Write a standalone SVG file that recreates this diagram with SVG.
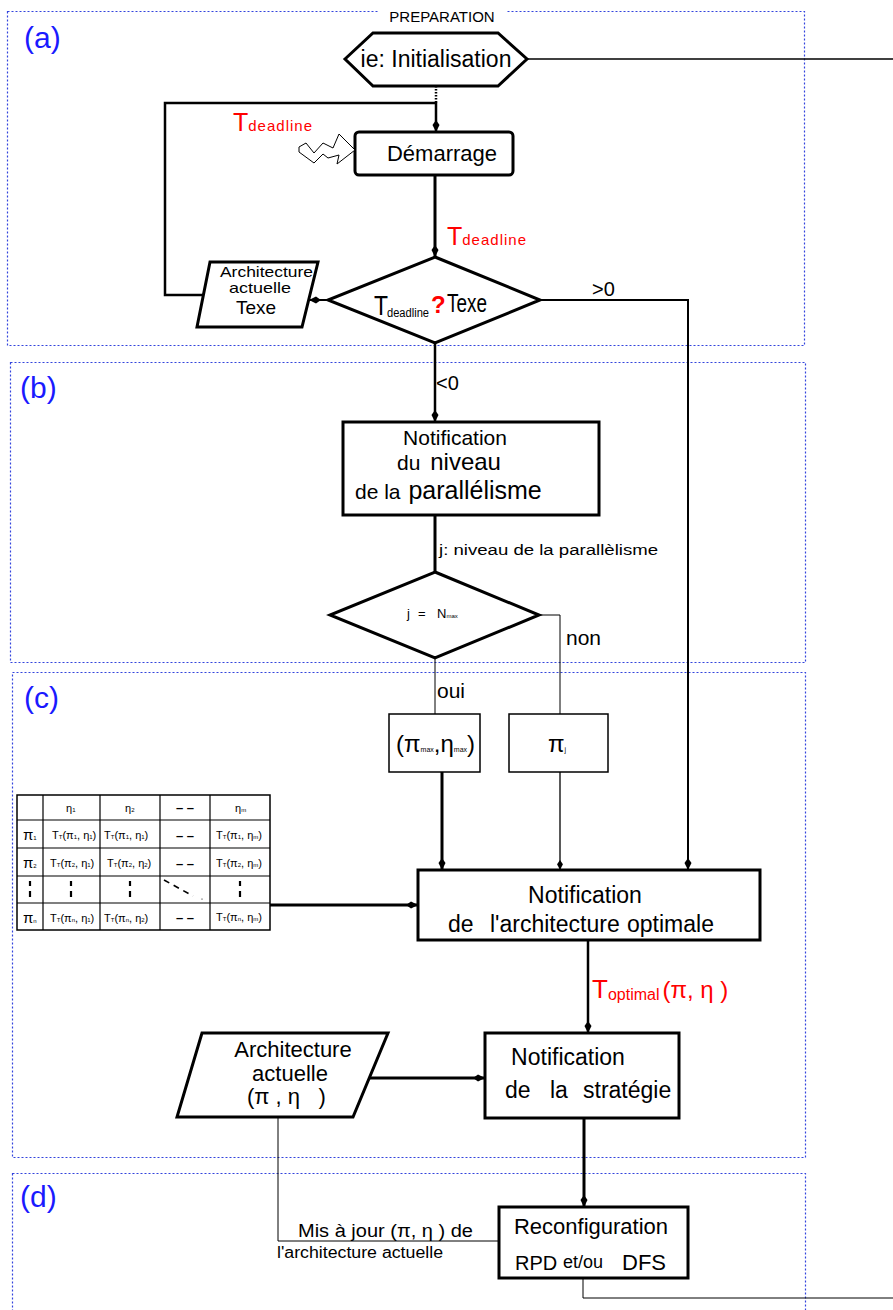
<svg xmlns="http://www.w3.org/2000/svg" width="893" height="1310" viewBox="0 0 893 1310">
<defs>
<style>
text{font-family:"Liberation Sans",Arial,sans-serif;fill:#000}
.frame{fill:none;stroke:#3344dd;stroke-width:1.2;stroke-dasharray:2,2}
.lbl{fill:#1a1aff;font-size:30px}
.red{fill:#ff0000}
.node{fill:#fff;stroke:#000;stroke-width:3}
.thin{fill:#fff;stroke:#000;stroke-width:1.5}
.c{fill:none;stroke:#000}
.tb{fill:none;stroke:#000;stroke-width:1.2}
.tc{font-size:11px}
.sub{font-size:6px}
</style>
<marker id="arr" markerUnits="userSpaceOnUse" viewBox="0 0 12 8" markerWidth="12" markerHeight="8" refX="12" refY="4" orient="auto">
<path d="M0,4 L5,0.5 L12,4 L5,7.5 Z" fill="#000"/>
</marker>
<marker id="arrs" markerUnits="userSpaceOnUse" viewBox="0 0 12 8" markerWidth="10" markerHeight="7" refX="12" refY="4" orient="auto">
<path d="M0,4 L5,0.5 L12,4 L5,7.5 Z" fill="#000"/>
</marker>
</defs>
<rect width="893" height="1310" fill="#fff"/>

<g id="frames">
<rect class="frame" x="7.5" y="11.5" width="797" height="334"/>
<rect class="frame" x="10.5" y="362.5" width="795" height="300"/>
<rect class="frame" x="12.5" y="672.5" width="793" height="485"/>
<rect class="frame" x="12.5" y="1173.5" width="793" height="140"/>
<text class="lbl" x="24" y="48">(a)</text>
<text class="lbl" x="20" y="398">(b)</text>
<text class="lbl" x="24" y="708">(c)</text>
<text class="lbl" x="20" y="1207">(d)</text>
<rect x="378" y="8" width="128" height="8" fill="#fff"/>
<text x="442" y="22" font-size="15" text-anchor="middle">PREPARATION</text>
</g>

<g id="connectors">
<path class="c" stroke-width="1.3" d="M527,59 H893"/>
<path class="c" stroke-width="2.5" stroke-dasharray="1.5,1.5" d="M436,86 V103"/>
<path class="c" stroke-width="2.5" d="M203,295 H165 V103 H436 V132" marker-end="url(#arr)"/>
<path class="c" stroke-width="3" d="M435,175 V257" marker-end="url(#arr)"/>
<path class="c" stroke-width="2" d="M328,300 H309" marker-end="url(#arr)"/>
<path class="c" stroke-width="2" d="M540,300 H688 V870" marker-end="url(#arr)"/>
<path class="c" stroke-width="2.5" d="M435,343 V422" marker-end="url(#arr)"/>
<path class="c" stroke-width="3" d="M435,515 V572"/>
<path class="c" stroke-width="1" d="M539,615 H560 V714"/>
<path class="c" stroke-width="1" d="M435,658 V714"/>
<path class="c" stroke-width="3" d="M442,772 V870" marker-end="url(#arr)"/>
<path class="c" stroke-width="1.3" d="M560,772 V870" marker-end="url(#arrs)"/>
<path class="c" stroke-width="3" d="M270,905 H418" marker-end="url(#arr)"/>
<path class="c" stroke-width="2.5" d="M588,940 V1033" marker-end="url(#arr)"/>
<path class="c" stroke-width="3" d="M370,1078 H485" marker-end="url(#arr)"/>
<path class="c" stroke-width="3" d="M584,1118 V1207" marker-end="url(#arr)"/>
<path class="c" stroke-width="1" d="M278,1117 V1241 H499"/>
<path class="c" stroke-width="1" d="M583,1278 V1298 H893"/>
</g>

<g id="labels">
<text class="red" x="233" y="131" font-size="25">T<tspan font-size="15" letter-spacing="1">deadline</tspan></text>
<text class="red" x="447" y="245" font-size="25">T<tspan font-size="15" letter-spacing="1">deadline</tspan></text>
<text x="592" y="296" font-size="20">&gt;0</text>
<text x="436" y="390" font-size="20">&lt;0</text>
<text x="439" y="555" font-size="14" textLength="219" lengthAdjust="spacingAndGlyphs">j:  niveau de la parallèlisme</text>
<text x="566" y="645" font-size="21">non</text>
<text x="437" y="698" font-size="21">oui</text>
<text class="red" x="592" y="998" font-size="26">T<tspan font-size="16" dy="2">optimal</tspan><tspan font-size="24" dy="-2" dx="3">(π, η )</tspan></text>
<text x="298" y="1237" font-size="18" textLength="175" lengthAdjust="spacingAndGlyphs">Mis à  jour (π, η  ) de</text>
<text x="277" y="1258" font-size="16" textLength="166" lengthAdjust="spacingAndGlyphs">l'architecture  actuelle</text>
</g>

<g id="init">
<polygon class="node" points="345,59 373,33 498,33 527,59 498,86 373,86"/>
<text x="436" y="67" font-size="23" text-anchor="middle">ie: Initialisation</text>
</g>

<g id="demarrage">
<rect class="node" x="355" y="132" width="158" height="43" rx="4"/>
<text x="442" y="161" font-size="22" text-anchor="middle">Démarrage</text>
<path d="M299,147 L306,143 L314,153 L323,143 L333,148 L339,134 L355,150 L337,164 L339,155 L328,158 L323,154 L314,163 L299,152 Z" fill="#fff" stroke="#000" stroke-width="1"/>
</g>

<g id="decision1">
<polygon class="node" points="435,257 540,300 435,343 328,300"/>
<text x="374" y="315" font-size="27" textLength="14" lengthAdjust="spacingAndGlyphs">T</text>
<text x="387" y="317" font-size="12" textLength="42" lengthAdjust="spacingAndGlyphs">deadline</text>
<text class="red" x="431" y="313" font-size="24" font-weight="bold">?</text>
<text x="447" y="312" font-size="26" textLength="40" lengthAdjust="spacingAndGlyphs">Texe</text>
</g>

<g id="archi1">
<polygon class="node" points="210,262 318,262 302,327 197,327"/>
<text x="220" y="277" font-size="15" textLength="93" lengthAdjust="spacingAndGlyphs">Architecture</text>
<text x="229" y="293" font-size="15" textLength="62" lengthAdjust="spacingAndGlyphs">actuelle</text>
<text x="256" y="314" font-size="19" text-anchor="middle">Texe</text>
</g>

<g id="niveau">
<rect class="node" x="343" y="422" width="256" height="93"/>
<text x="455" y="445" font-size="21" text-anchor="middle">Notification</text>
<text x="397" y="470" font-size="21">du <tspan font-size="24" dx="4">niveau</tspan></text>
<text x="355" y="499" font-size="21">de la <tspan font-size="25" dx="2">parallélisme</tspan></text>
</g>

<g id="decision2">
<polygon class="node" points="435,572 539,615 435,658 330,615"/>
<text y="618" font-size="13"><tspan x="407">j</tspan><tspan x="418">=</tspan><tspan x="437">N</tspan><tspan font-size="6">max</tspan></text>
</g>

<g id="pimax">
<rect class="thin" x="389" y="714" width="91" height="58"/>
<text x="396" y="752" font-size="24">(π<tspan font-size="7">max</tspan>,η<tspan font-size="7">max</tspan>)</text>
</g>

<g id="pij">
<rect class="thin" x="509" y="714" width="99" height="58"/>
<text x="548" y="752" font-size="24">π<tspan font-size="7">j</tspan></text>
</g>

<g id="table">
<rect x="17" y="795" width="253" height="135" fill="#fff" stroke="#000" stroke-width="1.5"/>
<path class="tb" d="M43,795 V930 M100,795 V930 M160,795 V930 M210,795 V930 M17,820 H270 M17,848 H270 M17,876 H270 M17,903 H270"/>
<text class="tc" x="66" y="812" font-size="13">η<tspan class="sub">1</tspan></text>
<text class="tc" x="125" y="812" font-size="13">η<tspan class="sub">2</tspan></text>
<text class="tc" x="235" y="812" font-size="13">η<tspan class="sub">m</tspan></text>
<text x="185" y="812" font-size="13" font-weight="bold" text-anchor="middle">– –</text>
<text x="23" y="840" font-size="15">π<tspan class="sub">1</tspan></text>
<text x="23" y="868" font-size="15">π<tspan class="sub">2</tspan></text>
<text x="23" y="923" font-size="15">π<tspan class="sub">n</tspan></text>
<text class="tc" x="52" y="839">T<tspan class="sub">T</tspan>(π<tspan class="sub">1</tspan>, η<tspan class="sub">1</tspan>)</text>
<text class="tc" x="104" y="839">T<tspan class="sub">T</tspan>(π<tspan class="sub">1</tspan>, η<tspan class="sub">1</tspan>)</text>
<text class="tc" x="216" y="839">T<tspan class="sub">T</tspan>(π<tspan class="sub">1</tspan>, η<tspan class="sub">m</tspan>)</text>
<text class="tc" x="50" y="867">T<tspan class="sub">T</tspan>(π<tspan class="sub">2</tspan>, η<tspan class="sub">1</tspan>)</text>
<text class="tc" x="107" y="867">T<tspan class="sub">T</tspan>(π<tspan class="sub">2</tspan>, η<tspan class="sub">2</tspan>)</text>
<text class="tc" x="216" y="867">T<tspan class="sub">T</tspan>(π<tspan class="sub">2</tspan>, η<tspan class="sub">m</tspan>)</text>
<text class="tc" x="50" y="922">T<tspan class="sub">T</tspan>(π<tspan class="sub">n</tspan>, η<tspan class="sub">1</tspan>)</text>
<text class="tc" x="104" y="922">T<tspan class="sub">T</tspan>(π<tspan class="sub">n</tspan>, η<tspan class="sub">2</tspan>)</text>
<text class="tc" x="216" y="921">T<tspan class="sub">T</tspan>(π<tspan class="sub">n</tspan>, η<tspan class="sub">m</tspan>)</text>
<text x="185" y="840" font-size="13" font-weight="bold" text-anchor="middle">– –</text>
<text x="185" y="868" font-size="13" font-weight="bold" text-anchor="middle">– –</text>
<text x="185" y="922" font-size="13" font-weight="bold" text-anchor="middle">– –</text>
<path d="M30,881 V886 M30,891 V897 M71,881 V886 M71,891 V897 M130,881 V886 M130,891 V897 M240,881 V886 M240,891 V897" stroke="#000" stroke-width="2.2"/>
<path d="M164,880 L193,896" stroke="#000" stroke-width="1.6" stroke-dasharray="6,5"/>
<circle cx="202" cy="899" r="0.6" fill="#000"/>
</g>

<g id="optimal">
<rect class="node" x="418" y="870" width="342" height="70"/>
<text x="585" y="903" font-size="23" text-anchor="middle">Notification</text>
<text y="932" font-size="23"><tspan x="448">de</tspan><tspan x="490">l'architecture</tspan><tspan x="627">optimale</tspan></text>
</g>

<g id="archi2">
<polygon class="node" points="202,1033 388,1033 353,1117 177,1117"/>
<text x="293" y="1057" font-size="22" text-anchor="middle">Architecture</text>
<text x="290" y="1081" font-size="22" text-anchor="middle">actuelle</text>
<text x="247" y="1104" font-size="22" xml:space="preserve">(π , η   )</text>
</g>

<g id="strategie">
<rect class="node" x="485" y="1033" width="194" height="85"/>
<text x="568" y="1065" font-size="23" text-anchor="middle">Notification</text>
<text y="1098" font-size="23"><tspan x="505">de</tspan><tspan x="550">la</tspan><tspan x="583">stratégie</tspan></text>
</g>

<g id="reconfig">
<rect class="node" x="499" y="1207" width="189" height="71"/>
<text x="591" y="1234" font-size="22" text-anchor="middle">Reconfiguration</text>
<text x="515" y="1270" font-size="20">RPD</text>
<text x="563" y="1268" font-size="18">et/ou</text>
<text x="622" y="1270" font-size="22">DFS</text>
</g>
</svg>
